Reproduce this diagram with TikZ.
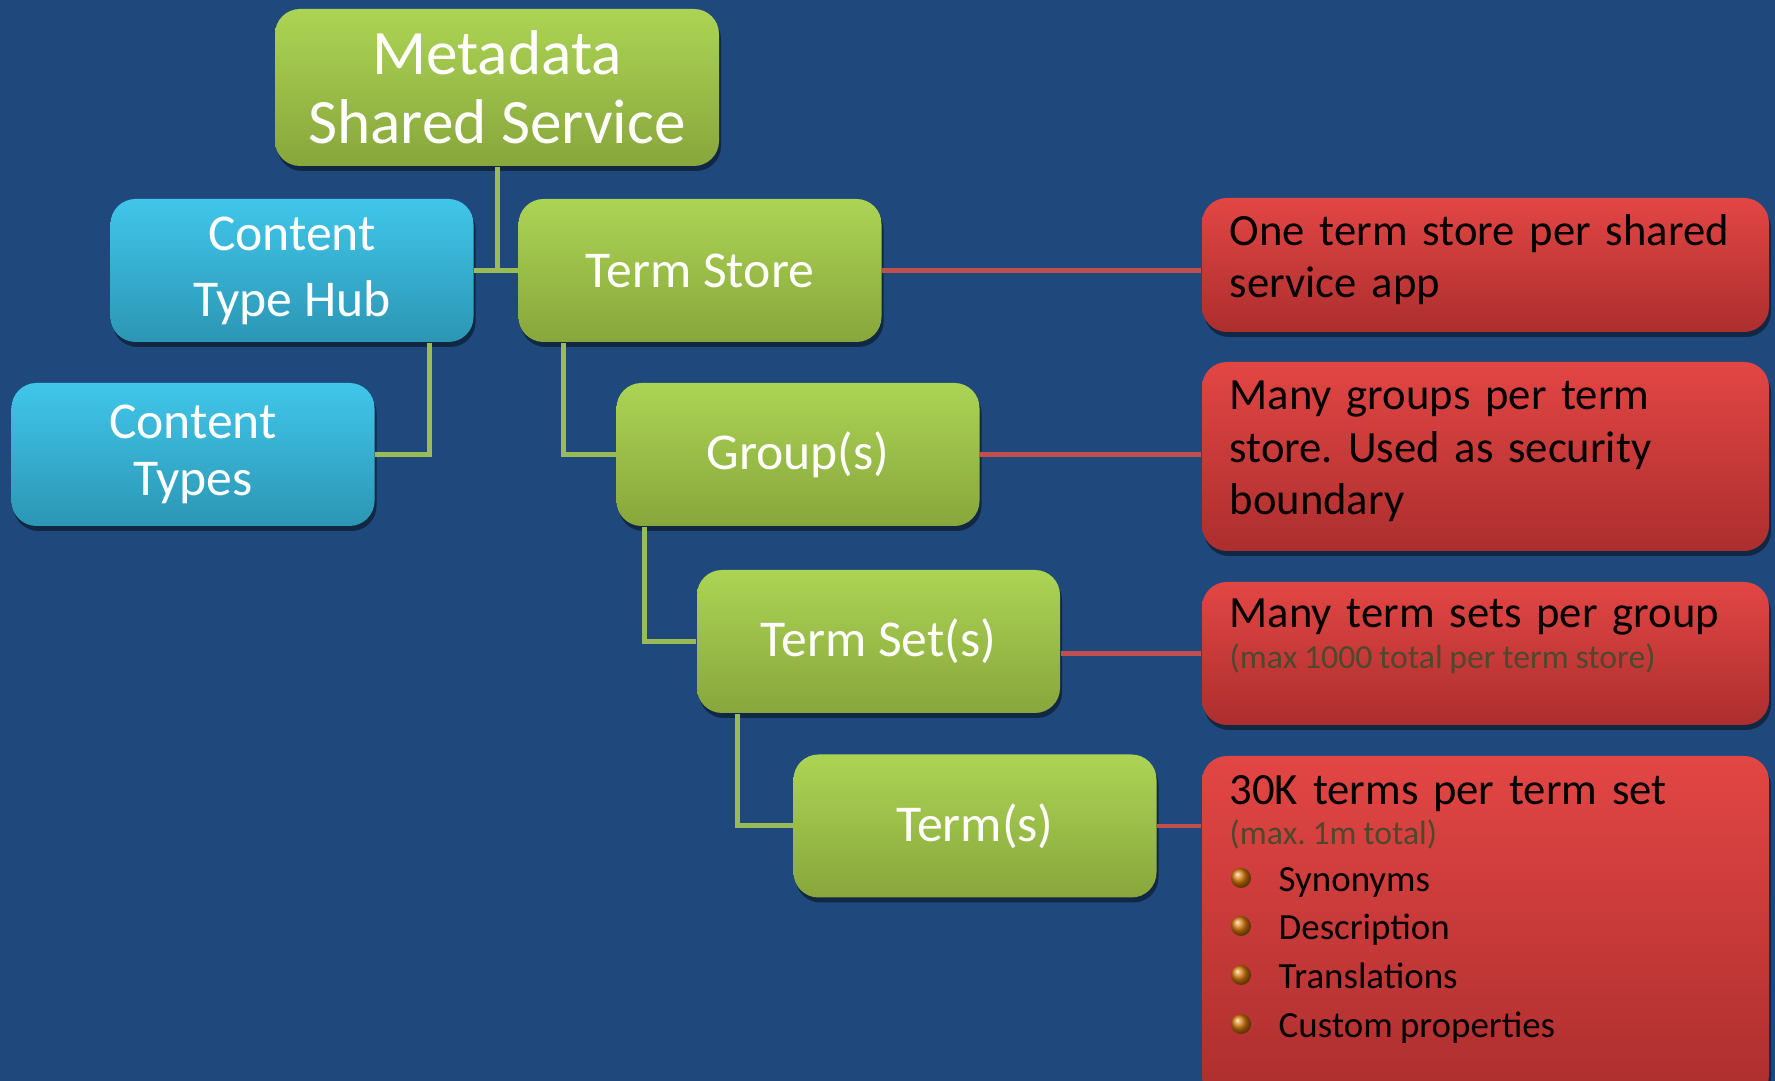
\documentclass[tikz,border=0pt]{standalone}
\usepackage{fontspec}
\setmainfont{Carlito}
\newfontfamily\notefont[WordSpace=0.88]{Carlito}
\usepackage{tikz}
\usetikzlibrary{shapes,positioning,calc,shadows}
\definecolor{bgblue}{RGB}{31,73,125}
\definecolor{greentop}{RGB}{172,212,84}
\definecolor{greenbot}{RGB}{136,166,60}
\definecolor{bluetop}{RGB}{64,198,234}
\definecolor{bluebot}{RGB}{44,150,180}
\definecolor{redtop}{RGB}{226,70,68}
\definecolor{redbot}{RGB}{172,46,46}
\definecolor{greenline}{RGB}{155,187,89}
\definecolor{redline}{RGB}{192,80,77}
\definecolor{subgray}{RGB}{78,72,44}
\definecolor{bulletorange}{RGB}{214,120,10}
\frenchspacing
\tikzset{
  level/.style = {rectangle, rounded corners=0.25cm, minimum width=3.63cm, minimum height=1.43cm,
    text=white, align=center, font=\fontsize{14.7}{17.5}\selectfont,
    drop shadow={shadow xshift=0.02cm, shadow yshift=-0.05cm, opacity=0.45, fill=black}},
  termbox/.style = {level, top color=greentop, bottom color=greenbot},
  hubbox/.style = {level, top color=bluetop, bottom color=bluebot},
  notebox/.style = {rectangle, rounded corners=0.25cm, minimum width=5.67cm,
    top color=redtop, bottom color=redbot,
    drop shadow={shadow xshift=0.02cm, shadow yshift=-0.05cm, opacity=0.45, fill=black}},
  notetext/.style = {anchor=base west, inner sep=0pt, text width=5.3cm, align=left,
    font=\notefont\fontsize{12.7}{14.6}\selectfont},
  notesub/.style = {anchor=base west, inner sep=0pt, text=subgray,
    font=\notefont\fontsize{9.6}{11}\selectfont},
  noteitem/.style = {anchor=base west, inner sep=0pt, font=\notefont\fontsize{10.5}{12}\selectfont},
  bulletdot/.style = {circle, inner sep=0pt, minimum size=0.2cm, shading=ball, ball color=bulletorange},
  link/.style = {draw=greenline, line width=0.05cm},
  notelink/.style = {draw=redline, line width=0.045cm}
}
\begin{document}
\begin{tikzpicture}
    \clip (0,0) rectangle (17.75,-10.81);
    \fill[bgblue] (0,0) rectangle (17.75,-10.81);
    % hierarchy
    \node[termbox, minimum width=4.44cm, minimum height=1.57cm, font=\fontsize{18}{19.6}\selectfont]
        (meta) at (4.97,-0.875) {Metadata\\Shared Service};
    \node[hubbox, font=\fontsize{14.7}{18.8}\selectfont] (cth) at (2.92,-2.705) {Content\\Type Hub};
    \node[termbox] (ts) at (7.00,-2.705) {Term Store};
    \node[hubbox, font=\fontsize{14.7}{16.3}\selectfont] (ct) at (1.93,-4.545) {Content\\Types};
    \node[termbox] (grp) at (7.98,-4.545) {Group(s)};
    \node[termbox] (tset) at (8.785,-6.415) {Term Set(s)};
    \node[termbox] (term) at (9.75,-8.26) {Term(s)};
    \draw[link] (meta.south) -- (meta.south |- ts.west);
    \draw[link] (cth.east) -- (ts.west);
    \draw[link] ([xshift=-0.45cm]cth.south east) |- (ct.east);
    \draw[link] ([xshift=0.46cm]ts.south west) |- (grp.west);
    \draw[link] ([xshift=0.29cm]grp.south west) |- (tset.west);
    \draw[link] ([xshift=0.41cm]tset.south west) |- (term.west);
    % notes
    \node[notebox, minimum height=1.34cm] (r1) at (14.855,-2.65) {};
    \node[notebox, minimum height=1.89cm] (r2) at (14.855,-4.565) {};
    \node[notebox, minimum height=1.43cm] (r3) at (14.855,-6.535) {};
    \node[notebox, minimum height=3.44cm] (r4) at (14.855,-9.28) {};
    \draw[notelink] (ts.east) -- (ts.east -| r1.west);
    \draw[notelink] (grp.east) -- (grp.east -| r2.west);
    \draw[notelink] (tset.east |- r3.west) -- (r3.west);
    \draw[notelink] (term.east) -- (term.east -| r4.west);
    \node[notetext] (r1t) at (12.29,-2.46) {One term store per shared\\service app};
    \node[notetext, font=\notefont\fontsize{12.7}{14.8}\selectfont] (r2t) at (12.29,-4.10)
        {Many groups per term\\store. Used as security\\boundary};
    \node[notetext] (r3t) at (12.29,-6.28) {Many term sets per group};
    \node[notesub] (r3s) at (12.29,-6.69) {(max 1000 total per term store)};
    \node[notetext] (r4t) at (12.29,-8.05) {30K terms per term set};
    \node[notesub] (r4s) at (12.29,-8.45) {(max. 1m total)};
    \node[bulletdot] (b1) at (12.41,-8.78) {};
    \node[noteitem] (i1) at (12.78,-8.92) {Synonyms};
    \node[bulletdot] (b2) at (12.41,-9.26) {};
    \node[noteitem] (i2) at (12.78,-9.40) {Description};
    \node[bulletdot] (b3) at (12.41,-9.75) {};
    \node[noteitem] (i3) at (12.78,-9.89) {Translations};
    \node[bulletdot] (b4) at (12.41,-10.24) {};
    \node[noteitem] (i4) at (12.78,-10.38) {Custom properties};
\end{tikzpicture}
\end{document}
